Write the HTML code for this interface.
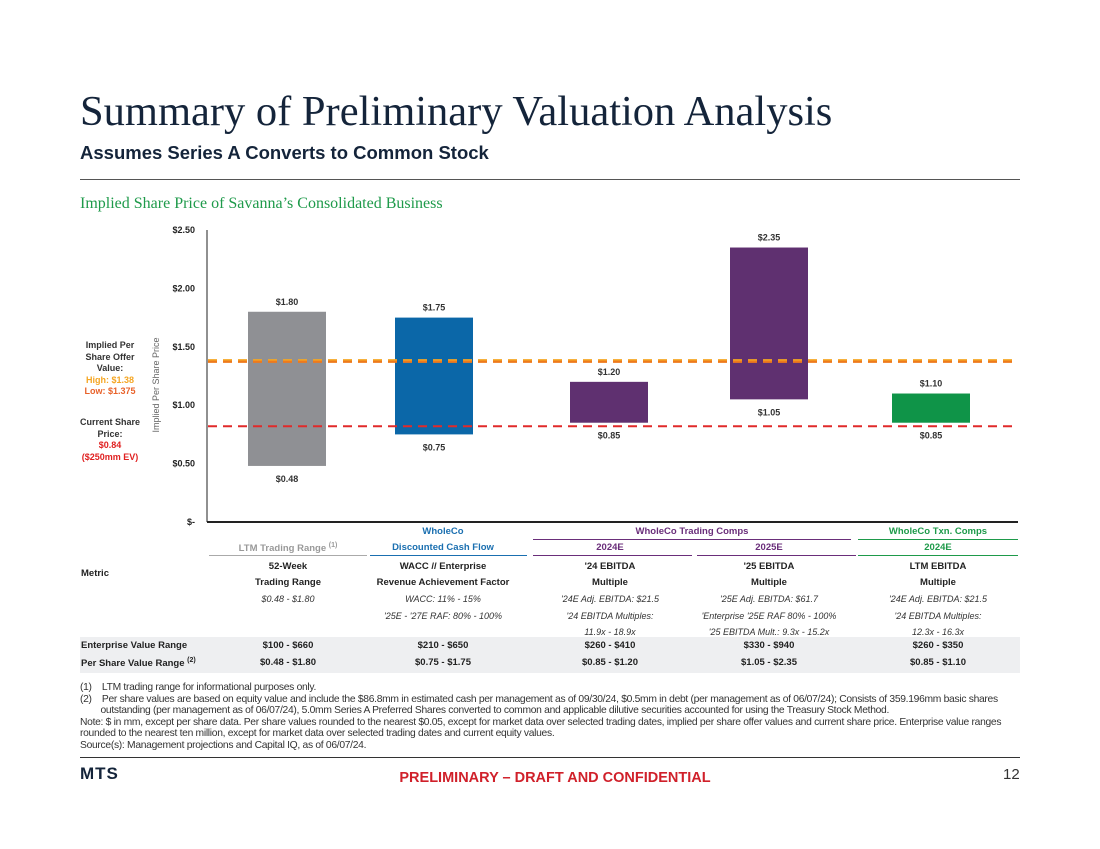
<!DOCTYPE html>
<html><head><meta charset="utf-8"><style>
body{margin:0;width:1100px;height:849px;background:#fff;position:relative;font-family:"Liberation Sans",sans-serif;overflow:hidden}
.a{position:absolute;white-space:nowrap}
.c{text-align:center;transform:translateX(-50%)}
.b{font-weight:bold}
.sm{font-size:9.5px;color:#222}
.it{font-style:italic;font-size:9px;color:#333}
.cell div{height:16.2px;line-height:16.2px}
.fn{font-size:10.3px;color:#333;letter-spacing:-0.3px;line-height:11.6px}
</style></head><body>
<div class="a" style="left:80px;top:87px;font-family:'Liberation Serif',serif;font-size:42.5px;color:#14243a">Summary of Preliminary Valuation Analysis</div>
<div class="a b" style="left:80px;top:142px;font-size:18.5px;color:#14243a">Assumes Series A Converts to Common Stock</div>
<div class="a" style="left:80px;top:179px;width:940px;height:1px;background:#555"></div>
<div class="a" style="left:80px;top:195px;font-family:'Liberation Serif',serif;font-size:16px;color:#1e9a4a">Implied Share Price of Savanna’s Consolidated Business</div>

<div class="a b c" style="left:110px;top:340px;font-size:9px;line-height:11.5px;color:#333">Implied Per<br>Share Offer<br>Value:<br><span style="color:#f5a623">High: $1.38</span><br><span style="color:#e8622a">Low: $1.375</span></div>
<div class="a b c" style="left:110px;top:417px;font-size:9px;line-height:11.5px;color:#333">Current Share<br>Price:<br><span style="color:#e02020">$0.84</span><br><span style="color:#e02020">($250mm EV)</span></div>
<div class="a" style="left:156px;top:385px;font-size:9px;color:#666;transform:translate(-50%,-50%) rotate(-90deg)">Implied Per Share Price</div>

<svg id="chart" class="a" style="left:0;top:0" width="1100" height="530"></svg>

<div class="a" style="left:80px;top:637px;width:940px;height:36px;background:#eeeff1"></div>

<div class="a b c sm" style="left:443px;top:526px;color:#1a6fb0">WholeCo</div>
<div class="a b c sm" style="left:692px;top:526px;color:#6a2e7a">WholeCo Trading Comps</div>
<div class="a b c sm" style="left:938px;top:526px;color:#1e9a4a">WholeCo Txn. Comps</div>
<div class="a" style="left:533px;top:539px;width:318px;height:1px;background:#6a2e7a"></div>
<div class="a" style="left:858px;top:539px;width:160px;height:1px;background:#1e9a4a"></div>
<div class="a b c sm" style="left:288px;top:542px;color:#999">LTM Trading Range <sup style="font-size:7px">(1)</sup></div>
<div class="a b c sm" style="left:443px;top:542px;color:#1a6fb0">Discounted Cash Flow</div>
<div class="a b c sm" style="left:610px;top:542px;color:#6a2e7a">2024E</div>
<div class="a b c sm" style="left:769px;top:542px;color:#6a2e7a">2025E</div>
<div class="a b c sm" style="left:938px;top:542px;color:#1e9a4a">2024E</div>
<div class="a" style="left:209px;top:555px;width:158px;height:1px;background:#aaa"></div>
<div class="a" style="left:370px;top:555px;width:157px;height:1px;background:#1a6fb0"></div>
<div class="a" style="left:533px;top:555px;width:159px;height:1px;background:#6a2e7a"></div>
<div class="a" style="left:697px;top:555px;width:159px;height:1px;background:#6a2e7a"></div>
<div class="a" style="left:858px;top:555px;width:160px;height:1px;background:#1e9a4a"></div>

<div class="a b sm" style="left:81px;top:568px">Metric</div>
<div class="a c cell" style="left:288px;top:559px"><div class="b sm">52-Week</div><div class="b sm">Trading Range</div><div class="it">$0.48 - $1.80</div></div>
<div class="a c cell" style="left:443px;top:559px"><div class="b sm">WACC // Enterprise</div><div class="b sm">Revenue Achievement Factor</div><div class="it">WACC: 11% - 15%</div><div class="it">'25E - '27E RAF: 80% - 100%</div></div>
<div class="a c cell" style="left:610px;top:559px"><div class="b sm">'24 EBITDA</div><div class="b sm">Multiple</div><div class="it">'24E Adj. EBITDA: $21.5</div><div class="it">'24 EBITDA Multiples:</div><div class="it">11.9x - 18.9x</div></div>
<div class="a c cell" style="left:769px;top:559px"><div class="b sm">'25 EBITDA</div><div class="b sm">Multiple</div><div class="it">'25E Adj. EBITDA: $61.7</div><div class="it">'Enterprise '25E RAF 80% - 100%</div><div class="it">'25 EBITDA Mult.:  9.3x - 15.2x</div></div>
<div class="a c cell" style="left:938px;top:559px"><div class="b sm">LTM EBITDA</div><div class="b sm">Multiple</div><div class="it">'24E Adj. EBITDA: $21.5</div><div class="it">'24 EBITDA Multiples:</div><div class="it">12.3x - 16.3x</div></div>

<div class="a b sm" style="left:81px;top:640px">Enterprise Value Range</div>
<div class="a b sm" style="left:81px;top:657px">Per Share Value Range <sup style="font-size:7px">(2)</sup></div>
<div class="a b c sm" style="left:288px;top:640px">$100 - $660</div>
<div class="a b c sm" style="left:443px;top:640px">$210 - $650</div>
<div class="a b c sm" style="left:610px;top:640px">$260 - $410</div>
<div class="a b c sm" style="left:769px;top:640px">$330 - $940</div>
<div class="a b c sm" style="left:938px;top:640px">$260 - $350</div>
<div class="a b c sm" style="left:288px;top:657px">$0.48 - $1.80</div>
<div class="a b c sm" style="left:443px;top:657px">$0.75 - $1.75</div>
<div class="a b c sm" style="left:610px;top:657px">$0.85 - $1.20</div>
<div class="a b c sm" style="left:769px;top:657px">$1.05 - $2.35</div>
<div class="a b c sm" style="left:938px;top:657px">$0.85 - $1.10</div>

<div class="a fn" style="left:80px;top:682px">
(1)&nbsp;&nbsp;&nbsp;&nbsp;LTM trading range for informational purposes only.<br>
(2)&nbsp;&nbsp;&nbsp;&nbsp;Per share values are based on equity value and include the $86.8mm in estimated cash per management as of 09/30/24, $0.5mm in debt (per management as of 06/07/24); Consists of 359.196mm basic shares<br>
&nbsp;&nbsp;&nbsp;&nbsp;&nbsp;&nbsp;&nbsp;&nbsp;outstanding (per management as of 06/07/24), 5.0mm Series A Preferred Shares converted to common and applicable dilutive securities accounted for using the Treasury Stock Method.<br>
Note: $ in mm, except per share data. Per share values rounded to the nearest $0.05, except for market data over selected trading dates, implied per share offer values and current share price. Enterprise value ranges<br>
rounded to the nearest ten million, except for market data over selected trading dates and current equity values.<br>
Source(s): Management projections and Capital IQ, as of 06/07/24.</div>
<div class="a" style="left:80px;top:757px;width:940px;height:1px;background:#333"></div>
<div class="a b" style="left:80px;top:764px;font-size:17px;color:#14243a;letter-spacing:1px">MTS</div>
<div class="a b c" style="left:555px;top:770px;font-size:14.5px;color:#d0202a">PRELIMINARY – DRAFT AND CONFIDENTIAL</div>
<div class="a" style="left:1003px;top:766px;font-size:15px;color:#333">12</div>

<script>
const categories=["LTM Trading Range","DCF","2024E","2025E","Txn 2024E"];
const lows=[0.48,0.75,0.85,1.05,0.85];
const highs=[1.80,1.75,1.20,2.35,1.10];
const colors=["#8f9094","#0b67a8","#5f3070","#5f3070","#0f9448"];
const tickVals=[0,0.5,1,1.5,2,2.5];
const tickLabels=["$-","$0.50","$1.00","$1.50","$2.00","$2.50"];
const offerHigh=1.38, offerLow=1.375, currentPrice=0.82;
const NS="http://www.w3.org/2000/svg";
const svg=document.getElementById('chart');
const y=v=>522-v*116.8;
const barX=[248,395,570,730,892], barW=78;
const x=i=>barX[i];
function mk(t,a){const e=document.createElementNS(NS,t);for(const k in a)e.setAttribute(k,a[k]);svg.appendChild(e);return e;}
tickVals.forEach((v,i)=>{const t=mk('text',{x:195,y:y(v)+3,'text-anchor':'end','font-size':9,'font-weight':'bold',fill:'#222'});t.textContent=tickLabels[i];

});
const ax=mk('line',{x1:207,y1:230,x2:207,y2:522,stroke:'#222','stroke-width':1});


const bx=mk('line',{x1:207,y1:522,x2:1018,y2:522,stroke:'#222','stroke-width':2});


categories.forEach((c,i)=>{
 const r=mk('rect',{x:x(i),y:y(highs[i]),width:barW,height:y(lows[i])-y(highs[i]),fill:colors[i]});
 
 
 const h=mk('text',{x:x(i)+barW/2,y:y(highs[i])-7,'text-anchor':'middle','font-size':9,'font-weight':'bold',fill:'#333'});h.textContent='$'+highs[i].toFixed(2);
 
 
 const l=mk('text',{x:x(i)+barW/2,y:y(lows[i])+16,'text-anchor':'middle','font-size':9,'font-weight':'bold',fill:'#333'});l.textContent='$'+lows[i].toFixed(2);
 
 
});
const l1=mk('line',{x1:208,y1:y(offerLow),x2:1018,y2:y(offerLow),stroke:'#ee7a1c','stroke-width':3,'stroke-dasharray':'9,6'});


const l2=mk('line',{x1:208,y1:y(offerHigh)-1,x2:1018,y2:y(offerHigh)-1,stroke:'#f5a623','stroke-width':1.5,'stroke-dasharray':'9,6'});


const l3=mk('line',{x1:208,y1:y(currentPrice),x2:1018,y2:y(currentPrice),stroke:'#e02a2a','stroke-width':2,'stroke-dasharray':'9,6'});


</script>
</body></html>
